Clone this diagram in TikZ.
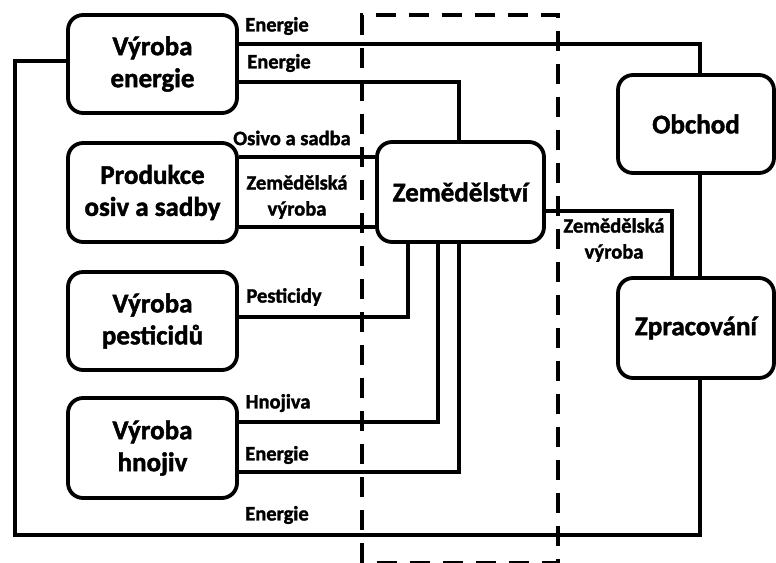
\documentclass[tikz,border=0pt]{standalone}
\usepackage{fontspec}
\setmainfont[BoldFeatures={FakeBold=1.6}]{Carlito}
\begin{document}
\begin{tikzpicture}[x=1pt,y=-1pt,
  box/.style={draw,line width=3.8pt,rounded corners=15pt,align=center,
    font=\bfseries\fontsize{27}{32}\selectfont,inner sep=0pt},
  flow/.style={line width=3.4pt,line join=miter},
  lbl/.style={font=\bfseries\fontsize{20.5}{26}\selectfont,align=center,inner sep=0pt},
  zone/.style={line width=3.8pt,dash pattern=on 20pt off 13pt}]
\useasboundingbox (0,0) rectangle (776,562);

% boundary of the agriculture sector (its lower edge runs along the page edge)
\draw[zone] (362,562.5) -- (362,15) -- (558,15) -- (558,562.5) -- cycle;

% boxes
\node[box,minimum width=169pt,minimum height=98pt] (ve) at (152.5,64) {Výroba\\energie};
\node[box,minimum width=169pt,minimum height=99pt] (pos) at (152.5,192.5) {Produkce\\osiv a sadby};
\node[box,minimum width=169pt,minimum height=98pt] (pest) at (152.5,321) {Výroba\\pesticidů};
\node[box,minimum width=169pt,minimum height=100pt] (hno) at (152.5,448) {Výroba\\hnojiv};
\node[box,minimum width=167pt,minimum height=100pt,fill=white] (zem) at (460.5,192) {Zemědělství};
\node[box,minimum width=156pt,minimum height=98pt] (obch) at (696,124) {Obchod};
\node[box,minimum width=156pt,minimum height=100pt] (zpr) at (696,328) {Zpracování};

% flows
\draw[flow] (ve.east |- 0,44) -- (700,44) -- (obch.north -| 700,0);
\draw[flow] (ve.east |- 0,82) -- (459,82) -- (zem.north -| 459,0);
\draw[flow] (pos.east |- 0,157) -- (zem.west |- 0,157);
\draw[flow] (pos.east |- 0,227) -- (zem.west |- 0,227);
\draw[flow] (pest.east |- 0,317) -- (408,317) -- (zem.south -| 408,0);
\draw[flow] (hno.east |- 0,422) -- (438,422) -- (zem.south -| 438,0);
\draw[flow] (hno.east |- 0,472) -- (459,472) -- (zem.south -| 459,0);
\draw[flow] (zem.east |- 0,211) -- (672,211) -- (zpr.north -| 672,0);
\draw[flow] (obch.south -| 700,0) -- (zpr.north -| 700,0);
\draw[flow] (zpr.south -| 700,0) -- (700,535) -- (15,535) -- (15,61) -- (ve.west |- 0,61);

% flow labels
\node[lbl] (l1) at (277,26) {Energie};
\node[lbl] (l2) at (279,63) {Energie};
\node[lbl] (l3) at (292,138) {Osivo a sadba};
\node[lbl] (l4) at (297,197) {Zemědělská\\výroba};
\node[lbl] (l5) at (284,297) {Pesticidy};
\node[lbl] (l6) at (278,403) {Hnojiva};
\node[lbl] (l7) at (277,455) {Energie};
\node[lbl] (l8) at (277,515) {Energie};
\node[lbl] (l9) at (614,240) {Zemědělská\\výroba};
\end{tikzpicture}
\end{document}
